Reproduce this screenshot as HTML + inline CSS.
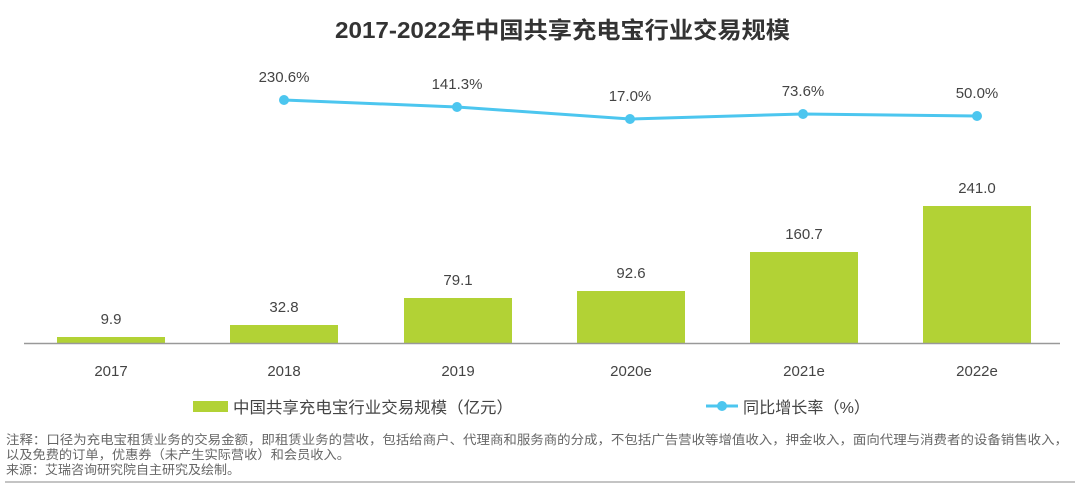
<!DOCTYPE html>
<html><head><meta charset="utf-8"><style>
body{margin:0;background:#fff;}
svg{display:block;font-family:"Liberation Sans","Noto Sans CJK SC",sans-serif;}
</style></head><body>
<svg width="1080" height="485" viewBox="0 0 1080 485">
<text x="335" y="38" font-size="23" font-weight="bold" fill="#333" textLength="455" lengthAdjust="spacingAndGlyphs">2017-2022年中国共享充电宝行业交易规模</text>
<g fill="#b2d235">
<rect x="57" y="337" width="108" height="6"/>
<rect x="230" y="325" width="108" height="18"/>
<rect x="404" y="298" width="108" height="45"/>
<rect x="577" y="291" width="108" height="52"/>
<rect x="750" y="252" width="108" height="91"/>
<rect x="923" y="206" width="108" height="137"/>
</g>
<line x1="24" y1="343.5" x2="1060" y2="343.5" stroke="#999" stroke-width="1.5"/>
<g font-size="15" fill="#444" text-anchor="middle">
<text x="111" y="324">9.9</text>
<text x="284" y="312">32.8</text>
<text x="458" y="285">79.1</text>
<text x="631" y="278">92.6</text>
<text x="804" y="239">160.7</text>
<text x="977" y="193">241.0</text>
<text x="111" y="376">2017</text>
<text x="284" y="376">2018</text>
<text x="458" y="376">2019</text>
<text x="631" y="376">2020e</text>
<text x="804" y="376">2021e</text>
<text x="977" y="376">2022e</text>
<text x="284" y="82">230.6%</text>
<text x="457" y="89">141.3%</text>
<text x="630" y="101">17.0%</text>
<text x="803" y="96">73.6%</text>
<text x="977" y="98">50.0%</text>
</g>
<polyline points="284,100 457,107 630,119 803,114 977,116" fill="none" stroke="#4cc6ef" stroke-width="3"/>
<g fill="#4cc6ef">
<circle cx="284" cy="100" r="5"/><circle cx="457" cy="107" r="5"/><circle cx="630" cy="119" r="5"/><circle cx="803" cy="114" r="5"/><circle cx="977" cy="116" r="5"/>
</g>
<rect x="193" y="401" width="35" height="11" fill="#b2d235"/>
<text x="233" y="413" font-size="16" fill="#444" textLength="280" lengthAdjust="spacingAndGlyphs">中国共享充电宝行业交易规模（亿元）</text>
<line x1="706" y1="406" x2="738" y2="406" stroke="#4cc6ef" stroke-width="3"/>
<circle cx="722" cy="406" r="5" fill="#4cc6ef"/>
<text x="743" y="413" font-size="16" fill="#444" textLength="127" lengthAdjust="spacingAndGlyphs">同比增长率（%）</text>
<g font-size="12.5" fill="#666">
<text x="6" y="444" textLength="1062" lengthAdjust="spacingAndGlyphs">注释：口径为充电宝租赁业务的交易金额，即租赁业务的营收，包括给商户、代理商和服务商的分成，不包括广告营收等增值收入，押金收入，面向代理与消费者的设备销售收入，</text>
<text x="6" y="459" textLength="344" lengthAdjust="spacingAndGlyphs">以及免费的订单，优惠券（未产生实际营收）和会员收入。</text>
<text x="6" y="474" textLength="234" lengthAdjust="spacingAndGlyphs">来源：艾瑞咨询研究院自主研究及绘制。</text>
</g>
<line x1="5" y1="482" x2="1075" y2="482" stroke="#888" stroke-width="1"/>
</svg>
</body></html>
